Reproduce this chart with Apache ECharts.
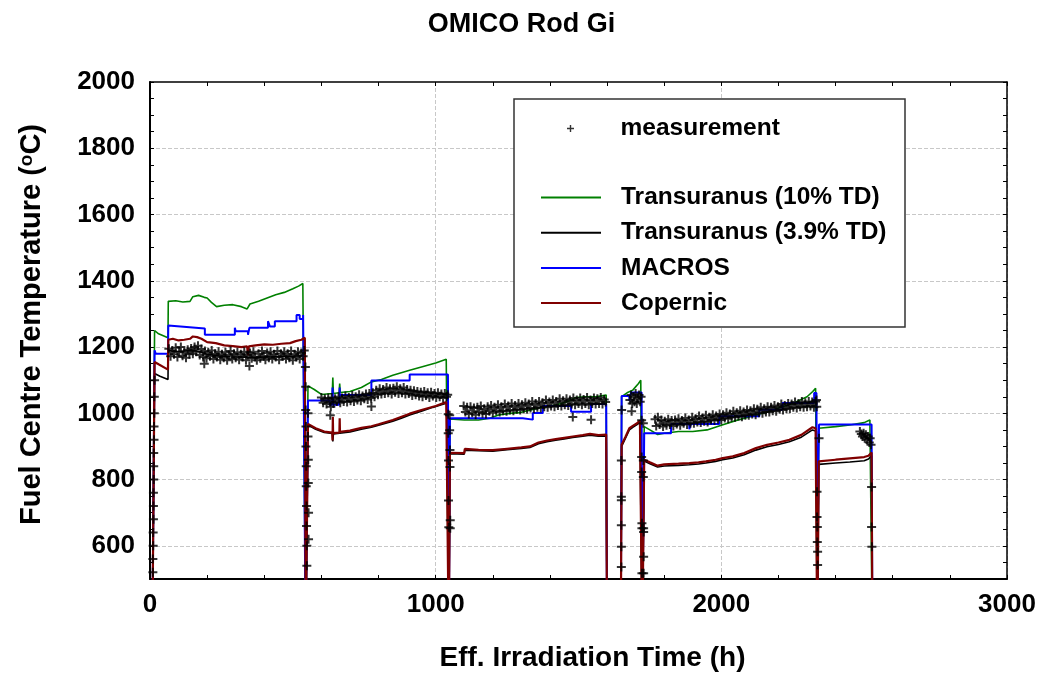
<!DOCTYPE html>
<html><head><meta charset="utf-8">
<script src="https://cdn.jsdelivr.net/npm/echarts@6/dist/echarts.min.js"></script>
<style>html,body{margin:0;padding:0;background:#fff}#c{width:1043px;height:682px}</style>
</head><body><div id="c"></div>
<script>
const FONT = '"Liberation Sans", Arial, Helvetica, sans-serif';

// ---- axis definitions ----
const xRange = [0, 3000];
const yRange = [500, 2000];
const yGridValues = [600, 800, 1000, 1200, 1400, 1600, 1800];

// ---- model curves [time h, temperature C] ----
const transuranus10 = [
  [8,300],[16,1250],[30,1240],[63,1228],
  [64,1338],[90,1340],[115,1336],[140,1338],[150,1352],[170,1356],[190,1350],[200,1348],[215,1335],[233,1322],[260,1326],[290,1328],[320,1322],[340,1315],[350,1330],[380,1338],[410,1348],[440,1358],[470,1365],[500,1376],[520,1384],[535,1392],[542,1397],[545,300],
  [550,300],[553,1083],[575,1072],[600,1057],[638,1060],[640,1108],[642,1060],[662,1062],[664,1090],[666,1063],[700,1066],[740,1078],[775,1095],[810,1102],[850,1115],[909,1130],[950,1140],[1000,1152],[1037,1163],[1043,1165],[1046,300],
  [1048,300],[1050,983],[1100,980],[1150,980],[1190,985],[1220,995],[1260,1000],[1300,1003],[1340,1012],[1380,1020],[1420,1025],[1460,1035],[1490,1048],[1520,1050],[1560,1050],[1597,1055],[1600,300],
  [1648,300],[1651,1050],[1670,1062],[1690,1070],[1710,1090],[1718,1100],[1721,1095],[1723,300],
  [1727,300],[1730,960],[1750,950],[1777,936],[1800,940],[1850,945],[1900,945],[1950,950],[2000,964],[2050,978],[2100,990],[2150,1002],[2200,1016],[2250,1030],[2300,1050],[2320,1066],[2330,1076],[2333,1070],[2336,300],
  [2338,300],[2341,955],[2400,960],[2450,965],[2500,972],[2520,980],[2526,981],[2529,300]
];
const transuranus39 = [
  [8,300],[16,1120],[35,1112],[63,1102],
  [64,1190],[90,1186],[120,1188],[150,1190],[175,1186],[200,1178],[240,1174],[280,1171],[320,1170],[360,1168],[400,1170],[440,1171],[480,1172],[520,1174],[542,1176],[545,300],
  [550,300],[553,965],[580,952],[610,942],[638,939],[640,915],[642,938],[664,940],[700,944],[740,952],[775,958],[810,966],[850,976],[880,985],[909,995],[950,1006],[990,1018],[1020,1026],[1043,1032],[1046,300],
  [1048,300],[1050,878],[1100,877],[1102,889],[1150,887],[1200,886],[1250,890],[1300,894],[1330,897],[1360,908],[1390,914],[1420,919],[1450,923],[1480,927],[1515,931],[1540,934],[1570,931],[1597,932],[1600,300],
  [1648,300],[1651,900],[1665,926],[1678,950],[1690,958],[1705,966],[1715,973],[1721,970],[1723,300],
  [1727,300],[1730,856],[1750,848],[1777,838],[1800,841],[1850,843],[1888,845],[1920,847],[1946,850],[1980,855],[2005,860],[2040,865],[2080,875],[2121,889],[2160,899],[2200,906],[2238,914],[2280,928],[2319,950],[2333,946],[2336,300],
  [2338,300],[2341,846],[2400,850],[2450,853],[2500,857],[2515,862],[2526,872],[2529,300]
];
const macros = [
  [8,300],[16,1190],[20,1180],[63,1180],
  [64,1265],[192,1256],[192,1237],[297,1237],[297,1258],[300,1248],[343,1248],[343,1237],[348,1237],[348,1258],[413,1258],[413,1278],[420,1278],[420,1262],[437,1262],[437,1278],[513,1278],[513,1297],[524,1297],[524,1285],[536,1285],[536,1297],[542,1297],[545,300],
  [550,300],[553,1039],[629,1039],[629,1026],[638,1026],[639,1078],[641,1026],[662,1026],[664,1078],[664,1055],[775,1055],[775,1099],[909,1099],[909,1117],[1043,1117],[1046,300],
  [1048,300],[1050,985],[1305,985],[1305,981],[1340,981],[1340,1001],[1375,1001],[1375,1022],[1474,1022],[1474,1005],[1544,1005],[1544,1028],[1597,1028],[1600,300],
  [1648,300],[1651,1052],[1678,1052],[1678,1038],[1684,1038],[1684,1063],[1721,1063],[1723,300],
  [1727,300],[1730,940],[1824,940],[1824,968],[1888,968],[1888,952],[1893,952],[1893,968],[1993,968],[1993,991],[2133,991],[2133,1011],[2214,1011],[2214,1031],[2325,1031],[2325,1061],[2333,1061],[2336,300],
  [2338,300],[2340,860],[2342,966],[2526,966],[2529,300]
];
const copernic = [
  [8,300],[16,1155],[30,1148],[63,1132],
  [64,1222],[80,1225],[100,1220],[120,1222],[140,1225],[150,1232],[165,1230],[180,1225],[200,1215],[230,1212],[260,1205],[290,1203],[320,1200],[340,1202],[343,1175],[346,1202],[370,1205],[400,1208],[430,1207],[460,1210],[490,1212],[510,1218],[530,1222],[542,1228],[545,300],
  [550,300],[553,968],[580,955],[610,945],[638,942],[639,918],[640,990],[641,940],[663,942],[664,985],[665,944],[700,948],[740,956],[775,961],[800,967],[850,980],[909,999],[950,1010],[1000,1022],[1037,1034],[1043,1036],[1046,300],
  [1048,300],[1050,881],[1100,880],[1102,893],[1150,890],[1200,889],[1250,893],[1300,897],[1330,900],[1360,912],[1390,918],[1420,922],[1450,926],[1480,930],[1515,934],[1540,938],[1570,934],[1597,936],[1600,300],
  [1648,300],[1651,905],[1665,930],[1678,955],[1690,962],[1705,970],[1715,978],[1721,975],[1723,300],
  [1727,300],[1730,860],[1750,852],[1777,842],[1800,846],[1850,848],[1888,850],[1920,852],[1946,855],[1980,860],[2005,865],[2040,870],[2080,880],[2121,895],[2160,905],[2200,912],[2238,920],[2280,935],[2319,958],[2330,955],[2333,950],[2336,300],
  [2338,300],[2341,855],[2400,860],[2450,864],[2500,868],[2515,872],[2526,882],[2529,300]
];

// ---- measurement [time h, temperature C] ----
const measStartup = [[10,520],[10,560],[11,600],[11,640],[12,680],[12,720],[12,760],[13,800],[13,840],[13,880],[14,920],[14,960],[15,1000],[15,1050],[16,1100]];
const measPhase1 = [
  [66,1195],[72,1172],[78,1190],[84,1178],[90,1198],[96,1170],[102,1186],[108,1200],[114,1174],[120,1184],[126,1168],[132,1192],[138,1178],[144,1196],[150,1180],[156,1200],[162,1186],[168,1204],[174,1176],[180,1194],[186,1170],[190,1150],[192,1188],[198,1166],[204,1184],[210,1172],[216,1190],[222,1164],[228,1180],[234,1170],[240,1186],[246,1162],[252,1178],[258,1168],[264,1184],[270,1160],[276,1176],[282,1188],[288,1164],[294,1180],[300,1168],[306,1184],[312,1162],[318,1178],[324,1170],[330,1186],[336,1160],[342,1176],[348,1143],[350,1182],[356,1166],[362,1186],[368,1170],[374,1160],[380,1180],[386,1166],[392,1188],[398,1172],[404,1162],[410,1182],[416,1168],[422,1186],[428,1164],[434,1178],[440,1170],[446,1188],[452,1162],[458,1180],[464,1172],[470,1186],[476,1164],[482,1180],[488,1168],[494,1188],[500,1160],[506,1178],[512,1170],[518,1186],[524,1164],[530,1182],[536,1172],[540,1190]
];
const measShutdown1 = [[544,1140],[545,1080],[545,1010],[546,960],[546,900],[547,840],[547,780],[548,720],[548,660],[549,600],[549,540],[553,1000],[553,930],[554,860],[554,790],[555,700],[555,620]];
const measPhase2 = [
  [600,1048],[606,1032],[612,1044],[618,1028],[624,1046],[630,1034],[631,994],[633,1020],[636,1048],[642,1030],[648,1044],[654,1036],[660,1050],[666,1032],[672,1046],[678,1036],[684,1052],[690,1034],[696,1048],[702,1038],[708,1054],[714,1036],[720,1050],[726,1040],[732,1056],[738,1038],[744,1052],[750,1044],[756,1058],[762,1042],[768,1060],[774,1046],[775,1021],[780,1062],[786,1050],[792,1070],[798,1056],[804,1074],[810,1058],[816,1072],[822,1060],[828,1078],[834,1062],[840,1074],[846,1058],[852,1076],[858,1064],[864,1080],[870,1060],[876,1074],[882,1062],[888,1078],[894,1058],[900,1072],[906,1060],[912,1070],[918,1054],[924,1068],[930,1056],[936,1066],[942,1052],[948,1064],[954,1050],[960,1066],[966,1054],[972,1062],[978,1048],[984,1064],[990,1052],[996,1060],[1002,1048],[1008,1062],[1014,1050],[1020,1058],[1026,1046],[1032,1060],[1038,1050],[1042,1056]
];
const measShutdown2 = [[1044,997],[1044,940],[1045,858],[1045,737],[1046,656],[1049,994],[1049,949],[1050,889],[1050,838],[1051,677],[1051,653]];
const measPhase3 = [
  [1098,1022],[1104,1004],[1110,1018],[1116,998],[1122,1020],[1128,1002],[1134,1016],[1140,996],[1146,1018],[1152,1004],[1158,1022],[1164,1000],[1170,1014],[1176,998],[1182,1020],[1188,1006],[1194,1024],[1200,1002],[1206,1018],[1212,1008],[1218,1026],[1224,1004],[1230,1020],[1236,1008],[1242,1028],[1248,1006],[1254,1022],[1260,1010],[1266,1030],[1272,1008],[1278,1024],[1284,1012],[1290,1030],[1296,1010],[1302,1026],[1308,1014],[1314,1032],[1320,1012],[1326,1028],[1332,1016],[1338,1036],[1344,1014],[1350,1030],[1356,1018],[1362,1036],[1368,1016],[1374,1032],[1380,1020],[1386,1040],[1392,1018],[1398,1034],[1404,1022],[1410,1040],[1416,1020],[1422,1036],[1428,1024],[1434,1044],[1440,1022],[1446,1038],[1452,1026],[1458,1044],[1464,1024],[1470,1040],[1476,1028],[1480,989],[1482,1046],[1488,1026],[1494,1040],[1500,1030],[1506,1046],[1512,1026],[1518,1042],[1524,1030],[1530,1048],[1536,1026],[1542,1040],[1544,981],[1548,1030],[1554,1046],[1560,1028],[1566,1044],[1572,1030],[1578,1048],[1584,1028],[1590,1042],[1595,1034]
];
const measShort = [
  [1650,858],[1650,748],[1650,738],[1650,662],[1650,597],[1650,536],[1651,1010],
  [1680,1040],[1684,1055],[1686,1006],[1688,1030],[1692,1050],[1696,1035],[1700,1060],[1704,1030],[1708,1045],[1712,1055],[1716,1035],[1719,1050],
  [1721,979],[1721,868],[1721,823],[1722,668],[1722,653],[1722,517],[1727,970],[1727,858],[1727,808],[1728,653],[1728,642],[1728,567],[1728,517]
];
const measPhase4 = [
  [1768,982],[1772,962],[1778,988],[1784,966],[1790,980],[1796,960],[1802,976],[1808,964],[1814,982],[1820,966],[1826,978],[1832,962],[1838,980],[1844,968],[1850,984],[1856,964],[1862,978],[1868,970],[1874,986],[1880,966],[1886,980],[1892,970],[1898,988],[1904,970],[1910,984],[1916,974],[1922,992],[1928,972],[1934,986],[1940,976],[1946,994],[1952,974],[1958,988],[1964,980],[1970,996],[1976,978],[1982,992],[1988,982],[1994,998],[2000,980],[2006,996],[2012,986],[2018,1002],[2024,984],[2030,998],[2036,988],[2042,1006],[2048,988],[2054,1002],[2060,992],[2066,1008],[2072,990],[2078,1004],[2084,994],[2090,1010],[2096,994],[2102,1008],[2108,998],[2114,1014],[2120,996],[2126,1012],[2132,1002],[2138,1018],[2144,1000],[2150,1014],[2156,1004],[2162,1020],[2168,1004],[2174,1018],[2180,1008],[2186,1024],[2192,1006],[2198,1020],[2204,1012],[2210,1028],[2216,1010],[2222,1024],[2228,1014],[2234,1030],[2240,1014],[2246,1028],[2252,1018],[2258,1034],[2264,1016],[2270,1030],[2276,1020],[2282,1036],[2288,1018],[2294,1032],[2300,1020],[2306,1036],[2312,1022],[2318,1034],[2324,1018],[2330,1036]
];
const measShutdown4 = [[2333,1040],[2334,1020],[2335,763],[2335,687],[2336,657],[2336,612],[2337,582],[2337,542],[2342,925]];
const measPhase5 = [[2485,945],[2490,938],[2494,930],[2498,940],[2502,925],[2506,935],[2510,920],[2514,930],[2518,912],[2521,925],[2524,905],[2526,778],[2526,657],[2527,597]];

const measurement = [].concat(measStartup, measPhase1, measShutdown1, measPhase2, measShutdown2, measPhase3, measShort, measPhase4, measShutdown4, measPhase5);

const PLUS = 'path://M3.5,0H5.5V3.5H9V5.5H5.5V9H3.5V5.5H0V3.5H3.5Z';
const txt = {fontFamily: FONT, fontWeight: 'bold', color: '#000'};

const chart = echarts.init(document.getElementById('c'), null, {renderer: 'canvas'});
const axisCommon = {
  axisLine: {show: true, onZero: false, lineStyle: {color: '#000', width: 2}},
  axisTick: {show: true, inside: true, length: 4, lineStyle: {color: '#000', width: 1}},
  minorTick: {show: true, length: 4, lineStyle: {color: '#000', width: 1}},
};
chart.setOption({
  animation: false,
  backgroundColor: '#fff',
  title: {text: 'OMICO Rod Gi', left: 'center', top: 11, padding: 0, textStyle: Object.assign({fontSize: 27}, txt)},
  grid: {left: 150, right: 36, top: 82, bottom: 103, containLabel: false},
  xAxis: [
    Object.assign({}, axisCommon, {
      type: 'value', min: xRange[0], max: xRange[1], interval: 1000,
      minorTick: Object.assign({}, axisCommon.minorTick, {splitNumber: 5}),
      name: 'Eff. Irradiation Time (h)', nameLocation: 'middle', nameGap: 65,
      nameTextStyle: Object.assign({fontSize: 28, padding: [0, 0, 0, 28]}, txt),
      axisLabel: Object.assign({fontSize: 26, margin: 13, formatter: v => String(v)}, txt),
      splitLine: {show: true, lineStyle: {type: 'dashed', color: '#c8c8c8', width: 1}}
    }),
    Object.assign({}, axisCommon, {
      type: 'value', position: 'top', min: xRange[0], max: xRange[1], interval: 1000,
      axisLine: {show: true, onZero: false, lineStyle: {color: '#000', width: 1.5}},
      minorTick: Object.assign({}, axisCommon.minorTick, {splitNumber: 5}),
      axisLabel: {show: false}, splitLine: {show: false}
    })
  ],
  yAxis: [
    Object.assign({}, axisCommon, {
      type: 'value', min: yRange[0], max: yRange[1], interval: 100,
      minorTick: Object.assign({}, axisCommon.minorTick, {splitNumber: 2}),
      name: 'Fuel Centre Temperature ({sup|o}C)', nameLocation: 'middle', nameGap: 104,
      nameTextStyle: Object.assign({fontSize: 29, padding: [0, 0, 0, 12], rich: {sup: Object.assign({fontSize: 19, verticalAlign: 'top'}, txt)}}, txt),
      axisLabel: Object.assign({fontSize: 26, margin: 15, formatter: v => (v % 200 === 0 ? String(v) : '')}, txt),
      splitLine: {show: false}
    }),
    Object.assign({}, axisCommon, {
      type: 'value', position: 'right', min: yRange[0], max: yRange[1], interval: 100,
      axisLine: {show: true, onZero: false, lineStyle: {color: '#000', width: 1.5}},
      minorTick: Object.assign({}, axisCommon.minorTick, {splitNumber: 2}),
      axisLabel: {show: false}, splitLine: {show: false}
    })
  ],
  legend: [
    {data: [{name: 'measurement', icon: 'path://M3.2,0H4.8V3.2H8V4.8H4.8V8H3.2V4.8H0V3.2H3.2Z'}], left: 567, top: 116, padding: 0, orient: 'vertical',
     itemWidth: 60, itemHeight: 7, z: 10,
     textStyle: Object.assign({fontSize: 24.5, lineHeight: 24, padding: [0, 0, 0, 15]}, txt)},
    {data: ['Transuranus (10% TD)', 'Transuranus (3.9% TD)', 'MACROS', 'Copernic'], left: 541, top: 185, padding: 0,
     orient: 'vertical', icon: 'rect', itemWidth: 60, itemHeight: 2, itemGap: 10.2, z: 10,
     textStyle: Object.assign({fontSize: 24.5, lineHeight: 24, padding: [0, 0, 0, 15]}, txt)}
  ],
  graphic: [{type: 'rect', z: 3, shape: {x: 514, y: 99, width: 391, height: 228},
             style: {fill: '#fff', stroke: '#333', lineWidth: 1.5}}],
  series: [
    {type: 'line', name: '_grid', data: [[0, 300]], symbol: 'none', lineStyle: {opacity: 0}, silent: true, z: 0,
     markLine: {silent: true, z: 0, symbol: ['none', 'none'], label: {show: false},
                lineStyle: {type: 'dashed', color: '#c8c8c8', width: 1},
                data: yGridValues.map(v => ({yAxis: v}))}},
    {type: 'line', name: 'Transuranus (10% TD)', data: transuranus10, symbol: 'none', showSymbol: false,
     color: '#008000', lineStyle: {color: '#008000', width: 1.6}, z: 2},
    {type: 'line', name: 'Transuranus (3.9% TD)', data: transuranus39, symbol: 'none', showSymbol: false,
     color: '#000', lineStyle: {color: '#000', width: 1.6}, z: 2},
    {type: 'scatter', name: 'measurement', data: measurement, symbol: PLUS, symbolSize: 9,
     itemStyle: {color: '#000'}, z: 2},
    {type: 'line', name: 'MACROS', data: macros, symbol: 'none', showSymbol: false,
     color: '#0000ff', lineStyle: {color: '#0000ff', width: 2}, z: 2},
    {type: 'line', name: 'Copernic', data: copernic, symbol: 'none', showSymbol: false,
     color: '#800000', lineStyle: {color: '#800000', width: 2.2}, z: 2}
  ]
});
</script></body></html>
